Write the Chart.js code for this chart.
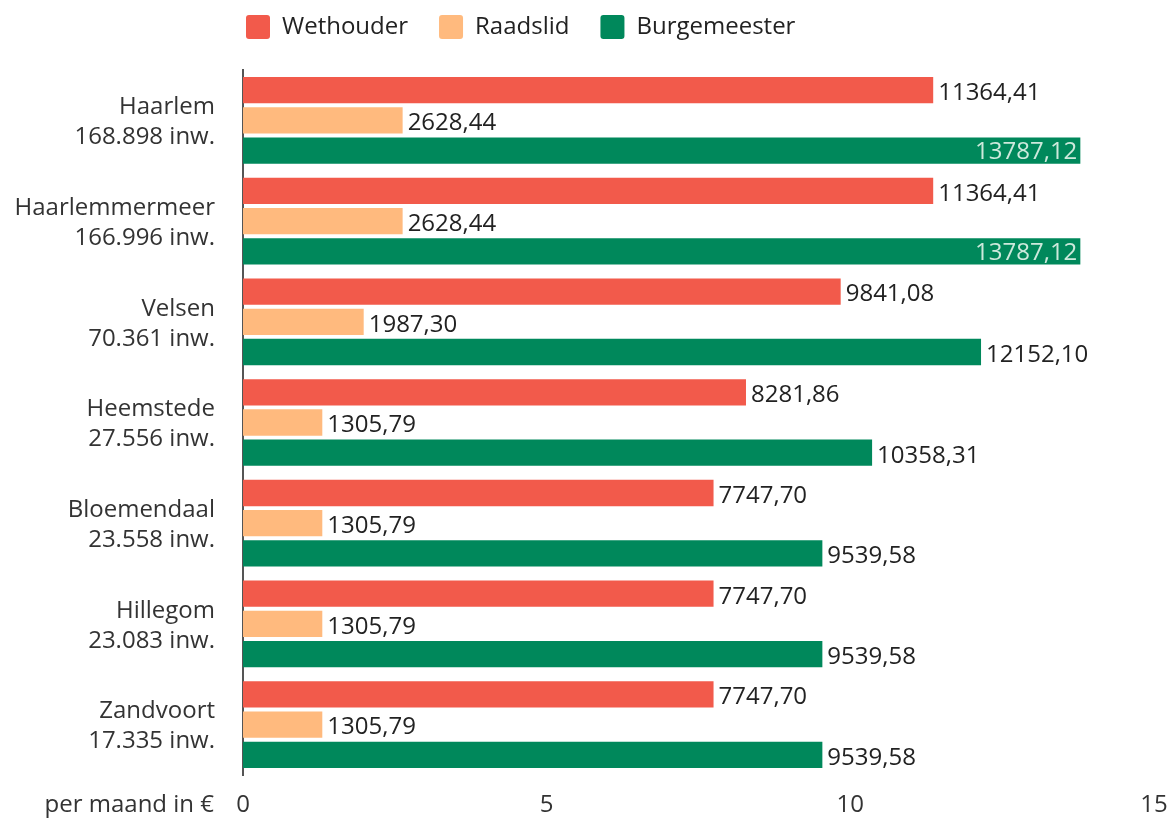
<!DOCTYPE html>
<html>
<head>
<meta charset="utf-8">
<script src="https://cdn.jsdelivr.net/npm/chart.js@4"></script>
<style>
html,body{margin:0;padding:0;background:#fff;}
#wrap{width:1170px;height:825px;position:relative;}
</style>
</head>
<body>
<div id="wrap"><canvas id="c" width="1170" height="825"></canvas></div>
<script>
const categories = [
  ["Haarlem", "168.898 inw."],
  ["Haarlemmermeer", "166.996 inw."],
  ["Velsen", "70.361 inw."],
  ["Heemstede", "27.556 inw."],
  ["Bloemendaal", "23.558 inw."],
  ["Hillegom", "23.083 inw."],
  ["Zandvoort", "17.335 inw."]
];
const wethouder = [11364.41, 11364.41, 9841.08, 8281.86, 7747.70, 7747.70, 7747.70];
const raadslid = [2628.44, 2628.44, 1987.30, 1305.79, 1305.79, 1305.79, 1305.79];
const burgemeester = [13787.12, 13787.12, 12152.10, 10358.31, 9539.58, 9539.58, 9539.58];
const xTicks = [0, 5, 10, 15];
const axisTitle = "per maand in €";

const FONT = "'Open Sans', sans-serif";
const FS = 24;
const LEGEND_PAD = 31;

const valueLabels = {
  id: 'valueLabels',
  afterInit(chart) {
    const lg = chart.legend;
    if (lg && !lg._wrapped) {
      const orig = lg.fit;
      lg.fit = function () { orig.call(this); this.height = 70; };
      lg._wrapped = true;
    }
  },
  afterLayout(chart) {
    const lg = chart.legend;
    if (!lg) return;
    const lw = lg.lineWidths ? lg.lineWidths[0] : 0;
    lg.left = 0;
    lg.right = 2 * 246 - LEGEND_PAD + lw;
    lg.top = 15 - LEGEND_PAD;
    lg.bottom = lg.top + 70;
  },
  afterDatasetsDraw(chart) {
    const ctx = chart.ctx;
    ctx.save();
    ctx.font = FS + "px " + FONT;
    ctx.textBaseline = 'middle';
    chart.data.datasets.forEach((ds, di) => {
      const meta = chart.getDatasetMeta(di);
      meta.data.forEach((bar, i) => {
        const txt = ds.data[i].toFixed(2).replace('.', ',');
        const w = ctx.measureText(txt).width;
        if (bar.x + 5 + w > chart.width) {
          ctx.fillStyle = '#cde9dc';
          ctx.textAlign = 'right';
          ctx.fillText(txt, bar.x - 3, bar.y + 2);
        } else {
          ctx.fillStyle = '#222';
          ctx.textAlign = 'left';
          ctx.fillText(txt, bar.x + 5, bar.y + 3);
        }
      });
    });
    ctx.fillStyle = '#333';
    ctx.textAlign = 'right';
    ctx.fillText(axisTitle, 214, 805);
    ctx.restore();
  }
};

new Chart(document.getElementById('c'), {
  type: 'bar',
  data: {
    labels: categories,
    datasets: [
      { label: 'Wethouder', data: wethouder, backgroundColor: '#f25a4b' },
      { label: 'Raadslid', data: raadslid, backgroundColor: '#ffba7e' },
      { label: 'Burgemeester', data: burgemeester, backgroundColor: '#00885b' }
    ]
  },
  options: {
    indexAxis: 'y',
    responsive: false,
    animation: false,
    devicePixelRatio: 1,
    categoryPercentage: 0.9,
    barPercentage: 0.87,
    layout: { padding: { top: 0, right: 16, bottom: 5, left: 0 } },
    plugins: {
      tooltip: { enabled: false },
      legend: {
        position: 'top',
        align: 'center',
        labels: {
          font: { family: FONT, size: FS },
          color: '#222',
          boxWidth: 24,
          boxHeight: 24,
          useBorderRadius: true,
          borderRadius: 3,
          padding: LEGEND_PAD
        }
      }
    },
    scales: {
      y: {
        grid: { display: false, drawTicks: false },
        border: { display: true, color: '#555', width: 2 },
        ticks: {
          font: { family: FONT, size: FS, lineHeight: 1.25 },
          color: '#333',
          padding: 28,
          labelOffset: 2
        },
        afterFit(scale) { scale.width = 243; scale.paddingTop = 0; scale.paddingBottom = 0; }
      },
      x: {
        min: 0,
        max: 15000,
        afterBuildTicks(scale) { scale.ticks = xTicks.map(v => ({ value: v * 1000 })); },
        grid: { display: false, drawTicks: false },
        border: { display: false },
        ticks: {
          font: { family: FONT, size: FS },
          color: '#333',
          padding: 16,
          callback: (v) => String(v / 1000)
        },
        afterFit(scale) { scale.height = 45; scale.paddingRight = 0; scale.paddingLeft = 0; }
      }
    }
  },
  plugins: [valueLabels]
});
</script>
</body>
</html>
